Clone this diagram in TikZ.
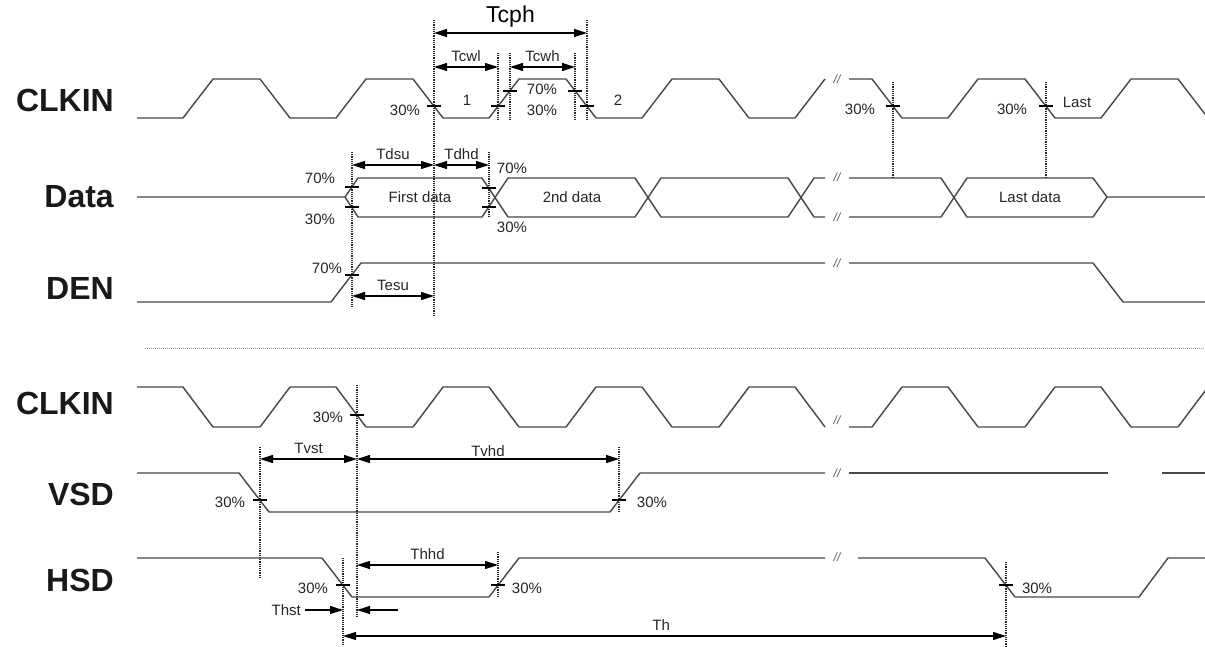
\documentclass[tikz,border=0pt]{standalone}
\usepackage{fontspec}
\setmainfont{Liberation Sans}
\usetikzlibrary{positioning, arrows.meta}

\tikzset{
  wave/.style={line width=1.4pt, draw=black!72, line join=round},
  guide/.style={densely dotted, line width=1.2pt, draw=black!85},
  dim/.style={line width=1.2pt, {Triangle[length=13pt,width=8pt]}-{Triangle[length=13pt,width=8pt]}},
  onedim/.style={line width=1.2pt, -{Triangle[length=13pt,width=8pt]}},
  tickmark/.style={line width=1.2pt, draw=black},
  sig/.style={font=\fontsize{32}{32}\selectfont\bfseries, anchor=east, inner sep=0pt, text=black!90},
  lbl/.style={font=\fontsize{15}{15}\selectfont, inner sep=1pt, text=black!85},
  brk/.style={font=\fontsize{12}{12}\selectfont\itshape, inner sep=0pt, text=black!65},
}

\begin{document}
\begin{tikzpicture}[x=1pt, y=-1pt]
\clip (0,0) rectangle (1205,646);
\fill[white] (0,0) rectangle (1205,646);

% signal names
\node[sig] (clka) at (114,100) {CLKIN};
\node[sig] (data) at (114,197) {Data};
\node[sig] (den)  at (114,288) {DEN};
\node[sig] (clkb) at (114,403) {CLKIN};
\node[sig] (vsd)  at (114,494) {VSD};
\node[sig] (hsd)  at (114,580) {HSD};

% CLKIN (top)
\draw[wave] (137,118) -- (183,118)
  \foreach \k in {0,...,3} { -- ++(30,-39) -- ++(47,0) -- ++(30,39) -- ++(46,0) }
  -- ++(30,-39);
\draw[wave] (849,79) -- (872,79) -- ++(30,39) -- ++(46,0) -- ++(30,-39) -- ++(47,0)
  -- ++(30,39) -- ++(46,0) -- ++(30,-39) -- ++(47,0) -- ++(30,39);

% Data
\draw[wave] (137,197) -- (345,197) -- (358,178) -- (482,178) -- (508,217) -- (635,217)
  -- (661,178) -- (788,178) -- (814,217) -- (825,217);
\draw[wave] (345,197) -- (358,217) -- (482,217) -- (508,178) -- (635,178)
  -- (661,217) -- (788,217) -- (814,178) -- (825,178);
\draw[wave] (849,178) -- (941,178) -- (967,217) -- (1093,217) -- (1107,197) -- (1205,197);
\draw[wave] (849,217) -- (941,217) -- (967,178) -- (1093,178) -- (1107,197);

% DEN
\draw[wave] (137,302) -- (331,302) -- (361,263) -- (825,263);
\draw[wave] (849,263) -- (1093,263) -- (1123,302) -- (1205,302);

\draw[densely dotted, line width=1pt, draw=black!40] (145,348) -- (1205,348);

% CLKIN (bottom)
\draw[wave] (137,387) -- (183,387)
  \foreach \k in {0,...,3} { -- ++(30,40) -- ++(47,0) -- ++(30,-40) -- ++(46,0) }
  -- ++(30,40);
\draw[wave] (849,427) -- (872,427) -- ++(30,-40) -- ++(46,0) -- ++(30,40) -- ++(47,0)
  -- ++(30,-40) -- ++(46,0) -- ++(30,40) -- ++(47,0) -- ++(30,-40);

% VSD
\draw[wave] (137,473) -- (239,473) -- (269,512) -- (610,512) -- (640,473) -- (825,473);
\draw[wave] (849,473) -- (1108,473) (1162,473) -- (1205,473);

% HSD
\draw[wave] (137,558) -- (322,558) -- (352,597) -- (489,597) -- (519,558) -- (825,558);
\draw[wave] (858,558) -- (985,558) -- (1015,597) -- (1139,597) -- (1168,558) -- (1205,558);

% breaks
\foreach \y/\n in {79/a,177/b,217/c,263/d,420/e,473/f,557/g}
  \node[brk] (brk\n) at (837,\y) {//};

% guide lines
\draw[guide] (434,20) -- (434,315);
\draw[guide] (587,20) -- (587,120);
\foreach \x in {498,510,575} \draw[guide] (\x,53) -- (\x,120);
\draw[guide] (352,152) -- (352,308);
\draw[guide] (489,152) -- (489,218);
\foreach \x in {893,1046} \draw[guide] (\x,82) -- (\x,177);
\draw[guide] (357,385) -- (357,617);
\draw[guide] (260,447) -- (260,577);
\draw[guide] (619,447) -- (619,513);
\draw[guide] (343,558) -- (343,646);
\draw[guide] (498,552) -- (498,598);
\draw[guide] (1006,562) -- (1006,646);

% crossing ticks
\foreach \p in {(434,106),(498,106),(510,91),(575,91),(587,106),(893,106),(1046,106),
  (352,187),(352,207),(489,188),(489,207),(352,275),
  (357,415),(260,500),(619,500),(343,585),(498,585),(1006,585)}
  \draw[tickmark] \p +(-7,0) -- +(7,0);

% timing arrows
\coordinate (tcphl) at (434,33);  \coordinate (tcphr) at (587,33);
\coordinate (tcwll) at (434,67);  \coordinate (tcwlr) at (498,67);
\coordinate (tcwhl) at (510,67);  \coordinate (tcwhr) at (575,67);
\coordinate (tdsul) at (352,165); \coordinate (tdsur) at (434,165);
\coordinate (tdhdr) at (489,165);
\coordinate (tesul) at (352,296); \coordinate (tesur) at (434,296);
\coordinate (tvstl) at (260,459); \coordinate (tvstr) at (357,459);
\coordinate (tvhdr) at (619,459);
\coordinate (thhdl) at (357,565); \coordinate (thhdr) at (498,565);
\coordinate (thl) at (343,636);   \coordinate (thr) at (1006,636);
\coordinate (thsta) at (305,610); \coordinate (thstb) at (343,610);
\coordinate (thstc) at (398,610); \coordinate (thstd) at (357,610);

\draw[dim] (tcphl) -- node[above=2pt, font=\fontsize{23}{23}\selectfont] (tcph) {Tcph} (tcphr);
\draw[dim] (tcwll) -- node[lbl, above=4pt] (tcwl) {Tcwl} (tcwlr);
\draw[dim] (tcwhl) -- node[lbl, above=4pt] (tcwh) {Tcwh} (tcwhr);
\draw[dim] (tdsul) -- node[lbl, above=4pt] (tdsu) {Tdsu} (tdsur);
\draw[dim] (tdsur) -- node[lbl, above=4pt] (tdhd) {Tdhd} (tdhdr);
\draw[dim] (tesul) -- node[lbl, above=4pt] (tesu) {Tesu} (tesur);
\draw[dim] (tvstl) -- node[lbl, above=4pt] (tvst) {Tvst} (tvstr);
\draw[dim] (tvstr) -- node[lbl, above=1pt] (tvhd) {Tvhd} (tvhdr);
\draw[dim] (thhdl) -- node[lbl, above=4pt] (thhd) {Thhd} (thhdr);
\draw[dim] (thl) -- node[lbl, above=4pt, pos=0.48] (th) {Th} (thr);
\draw[onedim] (thsta) -- (thstb);
\draw[onedim] (thstc) -- (thstd);
\node[lbl, left=3pt of thsta] (thst) {Thst};

% level labels
\node[lbl] (l30a) at (405,110) {30\%};
\node[lbl] (one)  at (467,100) {1};
\node[lbl] (l70b) at (542,89)  {70\%};
\node[lbl] (l30b) at (542,110) {30\%};
\node[lbl] (two)  at (618,100) {2};
\node[lbl] (l30c) at (860,109) {30\%};
\node[lbl] (l30d) at (1012,109) {30\%};
\node[lbl] (last) at (1077,102) {Last};
\node[lbl] (l70c) at (320,178) {70\%};
\node[lbl] (l30e) at (320,219) {30\%};
\node[lbl] (l70d) at (512,168) {70\%};
\node[lbl] (l30f) at (512,227) {30\%};
\node[lbl] (first) at (420,197) {First data};
\node[lbl] (second) at (572,197) {2nd data};
\node[lbl] (lastd) at (1030,197) {Last data};
\node[lbl] (l70e) at (327,268) {70\%};
\node[lbl] (l30g) at (328,417) {30\%};
\node[lbl] (l30h) at (230,502) {30\%};
\node[lbl] (l30i) at (652,502) {30\%};
\node[lbl] (l30j) at (313,588) {30\%};
\node[lbl] (l30k) at (527,588) {30\%};
\node[lbl] (l30l) at (1037,588) {30\%};
\end{tikzpicture}
\end{document}
